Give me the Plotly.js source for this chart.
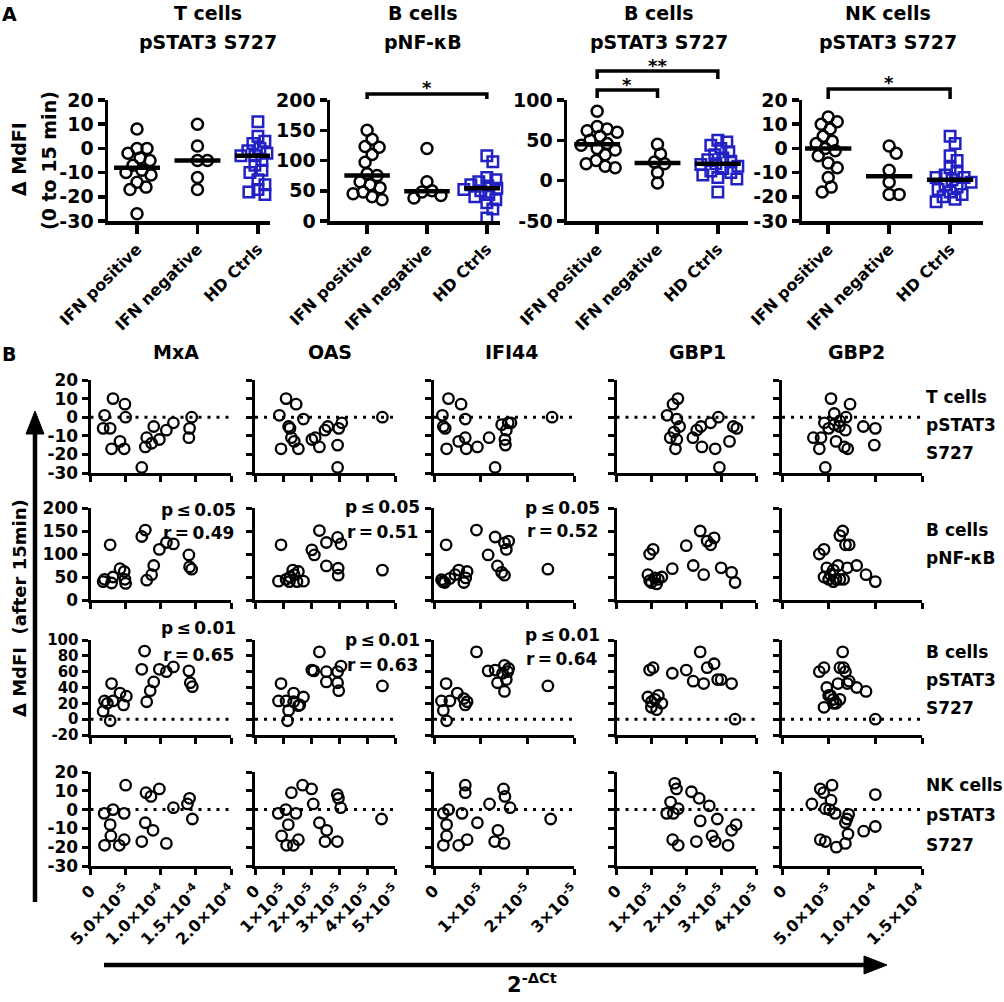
<!DOCTYPE html>
<html><head><meta charset="utf-8">
<script src="https://cdn.plot.ly/plotly-3.0.1.min.js"></script>
<style>html,body{margin:0;padding:0;background:#fff}</style>
</head><body><div id="chart" style="width:1004px;height:1002px"></div>
<script>
// ================= DATA =================
// Panel A: groups
const groups = ["IFN positive", "IFN negative", "HD Ctrls"];
const aTitle1 = ["T cells", "B cells", "B cells", "NK cells"];
const aTitle2 = ["pSTAT3 S727", "pNF-κB", "pSTAT3 S727", "pSTAT3 S727"];

const tPos = [8, 0, 0, -2, -4, -5, -7, -9, -10, -11, -14, -16, -17, -27];
const tNeg = [10, 1, -5, -5, -12, -17];
const tHD  = [11, 5, 3, 2, 1, 0, -1, -2, -3, -3, -5, -7, -9, -10, -13, -15, -17, -18, -19];
const bnfPos = [150, 135, 123, 122, 110, 97, 78, 75, 65, 60, 55, 48, 45, 40, 35];
const bnfNeg = [120, 65, 50, 48, 42, 38];
const bnfHD  = [108, 98, 72, 68, 65, 62, 60, 58, 56, 54, 52, 50, 47, 44, 40, 35, 30, 20, 5];
const bstPos = [86, 67, 64, 62, 60, 55, 50, 46, 44, 40, 38, 32, 25, 21, 18, 16];
const bstNeg = [45, 33, 23, 21, 10, -3];
const bstHD  = [50, 48, 44, 40, 36, 32, 28, 26, 24, 21, 20, 18, 15, 12, 10, 7, 4, 2, -14];
const nkPos = [13, 11, 10, 8, 5, 3, 2, 0, -1, -3, -6, -8, -12, -16, -18];
const nkNeg = [1, -2, -9, -14, -19, -19];
const nkHD  = [5, 2, -3, -5, -8, -10, -11, -12, -12, -13, -14, -15, -16, -17, -18, -19, -20, -21, -22];

const aYTicks = [[-30,-20,-10,0,10,20],[0,50,100,150,200],[-50,0,50,100],[-30,-20,-10,0,10,20]];
const aYTickText = [["-30","-20","-10","0","10","20"],["0","50","100","150","200"],["-50","0","50","100"],["-30","-20","-10","0","10","20"]];
const aYRange = [[-30,20],[0,200],[-50,100],[-30,20]];
const sigStars = [[], ["*"], ["**","*"], ["*"]];

// Panel B
const genes = ["MxA", "OAS", "IFI44", "GBP1", "GBP2"];
const rowLabels = [["T cells","pSTAT3","S727"],["B cells","pNF-κB"],["B cells","pSTAT3","S727"],["NK cells","pSTAT3","S727"]];
const pTexts = [["p ≤ 0.05","r = 0.49"],["p ≤ 0.05","r = 0.51"],["p ≤ 0.05","r = 0.52"]];
const pTexts3 = [["p ≤ 0.01","r = 0.65"],["p ≤ 0.01","r = 0.63"],["p ≤ 0.01","r = 0.64"]];

const colTicks = [[0,5e-5,1e-4,1.5e-4,2e-4],[0,1e-5,2e-5,3e-5,4e-5,5e-5],[0,1e-5,2e-5,3e-5],[0,1e-5,2e-5,3e-5,4e-5],[0,5e-5,1e-4,1.5e-4]];
const colTickText = [
  ["0","5.0×10<sup>-5</sup>","1.0×10<sup>-4</sup>","1.5×10<sup>-4</sup>","2.0×10<sup>-4</sup>"],
  ["0","1×10<sup>-5</sup>","2×10<sup>-5</sup>","3×10<sup>-5</sup>","4×10<sup>-5</sup>","5×10<sup>-5</sup>"],
  ["0","1×10<sup>-5</sup>","2×10<sup>-5</sup>","3×10<sup>-5</sup>"],
  ["0","1×10<sup>-5</sup>","2×10<sup>-5</sup>","3×10<sup>-5</sup>","4×10<sup>-5</sup>"],
  ["0","5.0×10<sup>-5</sup>","1.0×10<sup>-4</sup>","1.5×10<sup>-4</sup>"]];
const colRange = [[0,2e-4],[0,5e-5],[0,3e-5],[0,4e-5],[0,1.5e-4]];
const rowRange = [[-30,20],[0,200],[-20,100],[-30,20]];
const rowTicks = [[-30,-20,-10,0,10,20],[0,50,100,150,200],[-20,0,20,40,60,80,100],[-30,-20,-10,0,10,20]];
const rowTickText = [["-30","-20","-10","0","10","20"],["0","50","100","150","200"],["-20","0","20","40","60","80","100"],["-30","-20","-10","0","10","20"]];

// MxA
const MxA_T_x = [20e-6,32e-6,49e-6,50e-6,18e-6,28e-6,42e-6,30e-6,48e-6,73e-6,78e-6,80e-6,87e-6,90e-6,98e-6,108e-6,118e-6,140e-6,141e-6,144e-6];
const MxA_T_y = [1,10,7,0,-6,-6,-13,-17,-17,-27,-16,-11,-14,-5,-12,-7,-3,-11,-6,0];
const MxA_Bnf_x = [20e-6,18e-6,28e-6,30e-6,32e-6,42e-6,48e-6,49e-6,50e-6,73e-6,78e-6,80e-6,87e-6,90e-6,98e-6,108e-6,118e-6,140e-6,141e-6,144e-6];
const MxA_Bnf_y = [45,40,120,37,50,68,62,45,36,138,152,43,55,75,110,125,122,98,72,67];
const MxA_Bst_x = [20e-6,18e-6,30e-6,32e-6,28e-6,42e-6,47e-6,51e-6,73e-6,77e-6,80e-6,85e-6,90e-6,98e-6,108e-6,118e-6,140e-6,142e-6,145e-6,24e-6];
const MxA_Bst_y = [23,10,45,23,-2,33,18,29,63,86,22,36,47,63,60,66,61,46,41,20];
const MxA_NK_x = [19.5e-6,32e-6,50e-6,48e-6,28e-6,29e-6,20e-6,41e-6,48e-6,73e-6,78e-6,79e-6,86e-6,89e-6,98e-6,108e-6,118e-6,138e-6,141e-6,145e-6];
const MxA_NK_y = [-2,0,13,-2,-8,-14,-19,-19,-16,-17,-7,9,7,-11,11,-18,1,3,6,-5];
// OAS
const OAS_T_x = [11.1e-6,14.7e-6,8.7e-6,17.3e-6,12e-6,12.5e-6,13e-6,14e-6,9.3e-6,15.5e-6,20.3e-6,21.5e-6,23e-6,25e-6,26e-6,29.9e-6,31e-6,29.5e-6,29.5e-6,45.5e-6];
const OAS_T_y = [10,7,1,-1,-5,-6,-11,-13,-17,-17,-12,-11,-16,-7,-5,-6,-3,-15,-27,0];
const OAS_Bnf_x = [9.3e-6,8.4e-6,11.1e-6,12.3e-6,13.5e-6,15e-6,15.5e-6,17.3e-6,12.5e-6,20.3e-6,21.2e-6,23e-6,25.5e-6,29.5e-6,30.7e-6,25.5e-6,29.7e-6,29.7e-6,45.5e-6,14e-6];
const OAS_Bnf_y = [120,41,45,40,65,40,62,41,50,109,98,151,125,136,122,74,69,54,65,55];
const OAS_Bst_x = [9.3e-6,8.4e-6,11.1e-6,13.8e-6,12e-6,15.5e-6,17.3e-6,11.6e-6,13.8e-6,20.3e-6,21e-6,23e-6,25.5e-6,25.5e-6,29.5e-6,30.7e-6,29.5e-6,29.9e-6,45.5e-6,16e-6];
const OAS_Bst_y = [45,23,23,33,11,17,28,-2,22,62,61,85,60,47,60,67,46,36,42,18];
const OAS_NK_x = [8.3e-6,11e-6,13e-6,14.6e-6,11.9e-6,9.5e-6,11.3e-6,13.7e-6,15.5e-6,17e-6,20.2e-6,20.8e-6,23e-6,25.6e-6,25e-6,29.4e-6,29.8e-6,30.6e-6,29.4e-6,45.2e-6];
const OAS_NK_y = [-2,0,9,-2,-8,-14,-19,-19,-16,13,11,3,-7,-11,-17,8,6,1,-17,-5];
// IFI44
const IFI44_T_x = [3.1e-6,5.8e-6,1.8e-6,6.7e-6,2.0e-6,2.4e-6,5.3e-6,6.7e-6,2.7e-6,6.9e-6,9.3e-6,11.8e-6,13.1e-6,14.5e-6,15.5e-6,15.9e-6,15.2e-6,15.3e-6,16.5e-6,25.3e-6];
const IFI44_T_y = [10,7,1,-1,-5,-6,-13,-11,-17,-17,-16,-11,-27,-4,-7,-3,-12,-15,-3,0];
const IFI44_Bnf_x = [2.6e-6,9.1e-6,1.6e-6,2.3e-6,3.4e-6,5.3e-6,7.1e-6,6.4e-6,6.8e-6,11.6e-6,13.1e-6,15.1e-6,15.5e-6,13.6e-6,15.1e-6,16.0e-6,14.5e-6,1.9e-6,24.4e-6,4.5e-6];
const IFI44_Bnf_y = [120,152,44,38,47,65,62,38,48,98,137,124,110,74,54,128,60,40,67,55];
const IFI44_Bst_x = [2.6e-6,1.6e-6,3.4e-6,5e-6,6.4e-6,6.7e-6,7.1e-6,2.0e-6,2.7e-6,9.1e-6,11.6e-6,13.1e-6,13.6e-6,14.7e-6,15.1e-6,15.1e-6,15.5e-6,16.0e-6,15.8e-6,24.4e-6];
const IFI44_Bst_y = [45,23,23,33,26,18,22,11,-2,85,61,62,46,58,68,35,50,64,60,42];
const IFI44_NK_x = [2.0e-6,3.1e-6,6.7e-6,6.7e-6,6.0e-6,2.7e-6,2.7e-6,2.0e-6,5.3e-6,7.1e-6,9.3e-6,11.9e-6,13.7e-6,13.0e-6,15.0e-6,14.9e-6,15.2e-6,16.3e-6,25.0e-6];
const IFI44_NK_y = [-2,0,13,9,-2,-8,-14,-19,-19,-16,-7,3,-11,-17,-18,11,7,1,-5];
// GBP1
const GBP1_T_x = [17.6e-6,16.2e-6,14.5e-6,17.3e-6,18.1e-6,15.4e-6,17.3e-6,16.9e-6,21.9e-6,23.0e-6,24.2e-6,24.5e-6,27.0e-6,29.2e-6,28.3e-6,29.5e-6,32.4e-6,33.5e-6,34.5e-6,16.5e-6];
const GBP1_T_y = [10,7,1,-1,-5,-11,-12,-17,-11,-7,-5,-16,-3,0,-17,-27,-13,-5,-6,-8];
const GBP1_Bnf_x = [9.5e-6,10.5e-6,9e-6,9.5e-6,11e-6,10e-6,12e-6,16e-6,20e-6,24e-6,26e-6,27e-6,22e-6,25e-6,30e-6,33e-6,34e-6,13e-6,11.5e-6,28e-6];
const GBP1_Bnf_y = [100,110,55,42,48,38,45,68,118,150,128,120,75,55,70,60,38,50,35,135];
const GBP1_Bst_x = [9.5e-6,10.5e-6,9e-6,10e-6,11e-6,10e-6,12e-6,16e-6,20e-6,24e-6,26e-6,28e-6,22e-6,25e-6,30e-6,33e-6,34e-6,13e-6,11.5e-6,29e-6];
const GBP1_Bst_y = [62,65,28,22,25,15,30,58,62,85,65,70,48,45,50,45,0,20,12,50];
const GBP1_NK_x = [16.7e-6,17.2e-6,15.5e-6,14.4e-6,16.3e-6,17.7e-6,16.1e-6,17.7e-6,21.5e-6,23.7e-6,26.6e-6,24e-6,28.9e-6,22.9e-6,27.4e-6,28.3e-6,32e-6,33e-6,34.3e-6];
const GBP1_NK_y = [14,11,4,-2,-2,0.5,-16,-19,9.5,6,2,-6,-5,-17,-14,-17,-19,-11,-8];
// GBP2
const GBP2_T_x = [52.5e-6,72.9e-6,56e-6,68.6e-6,45.4e-6,56e-6,61.4e-6,67.9e-6,87.1e-6,100e-6,33.6e-6,41.8e-6,57.9e-6,40e-6,66.8e-6,70.4e-6,98.9e-6,46.4e-6,50e-6,62e-6];
const GBP2_T_y = [10,7,2,0,-3,-4,-5,-7,-5,-6,-11,-11,-13,-17,-16,-17,-15,-27,-6,-2];
const GBP2_Bnf_x = [40e-6,45e-6,50e-6,48e-6,55e-6,60e-6,62e-6,65e-6,68e-6,55e-6,62e-6,70e-6,80e-6,90e-6,100e-6,45e-6,52e-6,66e-6,72e-6,58e-6];
const GBP2_Bnf_y = [100,110,45,70,40,75,140,150,120,65,45,70,75,55,40,50,55,45,120,45];
const GBP2_Bst_x = [40e-6,45e-6,50e-6,48e-6,55e-6,60e-6,62e-6,65e-6,68e-6,55e-6,62e-6,70e-6,80e-6,90e-6,100e-6,45e-6,52e-6,66e-6,72e-6,58e-6];
const GBP2_Bst_y = [60,65,30,40,20,45,65,85,60,25,25,45,40,35,0,15,30,65,48,20];
const GBP2_NK_x = [53.6e-6,41e-6,44.6e-6,52.5e-6,32e-6,46.4e-6,51e-6,57e-6,71.4e-6,69.6e-6,67.9e-6,70.7e-6,87.5e-6,100e-6,100e-6,41e-6,46.4e-6,58.2e-6,67.9e-6];
const GBP2_NK_y = [13,11,9,5,3,0.5,0,-2,-2.5,-5,-7,-13,-11.5,8,-9,-16,-17,-20,-18];

// ================= BUILD =================
const FONT = "DejaVu Sans";
const W = 1004, H = 1002;
const fx = p => p / W, fy = p => 1 - p / H;
const bold = (size) => ({family: FONT, size: size, color: '#000', weight: 'bold'});

const layout = {
  width: W, height: H, margin: {l: 0, r: 0, t: 0, b: 0}, showlegend: false,
  paper_bgcolor: '#fff', plot_bgcolor: 'rgba(0,0,0,0)',
  font: {family: FONT, color: '#000'}, annotations: [], shapes: []
};
const traces = [];
let nAx = 0;
function addAxes(xd, yd, xr, yr, xcfg, ycfg) {
  nAx++;
  const s = nAx === 1 ? '' : String(nAx);
  const base = {showline: true, linecolor: '#000', showgrid: false, zeroline: false,
    ticks: 'outside', tickcolor: '#000', fixedrange: true};
  layout['xaxis' + s] = Object.assign({}, base, {domain: [fx(xd[0]), fx(xd[1])], range: xr, anchor: 'y' + s}, xcfg);
  layout['yaxis' + s] = Object.assign({}, base, {domain: [fy(yd[1]), fy(yd[0])], range: yr, anchor: 'x' + s}, ycfg);
  return {x: 'x' + s, y: 'y' + s};
}
function ann(text, x, y, size, opts) {
  layout.annotations.push(Object.assign({text: text, x: fx(x), y: fy(y), xref: 'paper', yref: 'paper',
    showarrow: false, xanchor: 'center', yanchor: 'middle', font: bold(size)}, opts || {}));
}
function pathShape(pts, w, fill) {
  const d = 'M ' + pts.map(p => fx(p[0]) + ',' + fy(p[1])).join(' L ') + (fill ? ' Z' : '');
  const sh = {type: 'path', xref: 'paper', yref: 'paper', path: d, line: {color: '#000', width: w}};
  if (fill) sh.fillcolor = '#000';
  layout.shapes.push(sh);
}
function median(a) {
  const s = a.slice().sort((p, q) => p - q), n = s.length;
  return n % 2 ? s[(n - 1) / 2] : (s[n / 2 - 1] + s[n / 2]) / 2;
}
function swarm(vals, xppu, yppu, diam) {
  const off = new Array(vals.length).fill(0);
  const order = vals.map((v, i) => i).sort((a, b) => vals[b] - vals[a]);
  const placed = [];
  for (const i of order) {
    const yp = vals[i] * yppu;
    let chosen = 0;
    for (let s = 0; s < 400; s++) {
      const c = (s % 2 === 1 ? 1 : -1) * Math.ceil(s / 2);
      let ok = true;
      for (const p of placed) {
        const dx = c - p[0], dy = yp - p[1];
        if (dx * dx + dy * dy < diam * diam) { ok = false; break; }
      }
      if (ok) { chosen = c; break; }
    }
    placed.push([chosen, yp]);
    off[i] = chosen / xppu;
  }
  return off;
}

// ---------- Panel A ----------
const aData = [[tPos, tNeg, tHD], [bnfPos, bnfNeg, bnfHD], [bstPos, bstNeg, bstHD], [nkPos, nkNeg, nkHD]];
const aXDom = [[108, 270], [330, 500], [567, 748], [802, 983]];
const aXRange = [[-0.48, 2.2], [-0.62, 2.22], [-0.5, 2.5], [-0.43, 2.54]];
const aYDom = [100, 221];
const aTitleX = [208, 423, 659, 888];
const BLUE = '#2222c4';

for (let p = 0; p < 4; p++) {
  const ax = addAxes(aXDom[p], aYDom, aXRange[p], aYRange[p],
    {tickvals: [0, 1, 2], ticktext: groups, tickangle: -45, ticklen: 9, tickwidth: 3.5, linewidth: 3.5,
     tickfont: bold(16)},
    {tickvals: aYTicks[p], ticktext: aYTickText[p], ticklen: 7, tickwidth: 3.5, linewidth: 3.5,
     tickfont: bold(19)});
  const xppu = (aXDom[p][1] - aXDom[p][0]) / (aXRange[p][1] - aXRange[p][0]);
  const yppu = (aYDom[1] - aYDom[0]) / (aYRange[p][1] - aYRange[p][0]);
  for (let g = 0; g < 3; g++) {
    const vals = aData[p][g];
    const off = swarm(vals, xppu, yppu, g === 2 ? 8.5 : 10);
    traces.push({type: 'scatter', mode: 'markers', xaxis: ax.x, yaxis: ax.y, cliponaxis: false,
      x: vals.map((v, i) => g + off[i]), y: vals,
      marker: g === 2 ? {symbol: 'square-open', size: 10.5, color: BLUE, line: {width: 2.5, color: BLUE}}
                      : {symbol: 'circle-open', size: 11, color: '#000', line: {width: 2.5, color: '#000'}}});
    const m = median(vals);
    traces.push({type: 'scatter', mode: 'lines', xaxis: ax.x, yaxis: ax.y, cliponaxis: false,
      x: [g - 0.38, g + 0.38], y: [m, m], line: {color: '#000', width: 4.5}});
  }
  // titles
  ann(aTitle1[p], aTitleX[p], 13, 19);
  ann(aTitle2[p], aTitleX[p], 42, 19);
  // significance brackets
  const cx = c => aXDom[p][0] + (c - aXRange[p][0]) * xppu;
  if (p === 1 || p === 3) {
    const yb = p === 1 ? 94 : 89;
    pathShape([[cx(0), 99], [cx(0), yb], [cx(2), yb], [cx(2), 99]], 3.5, false);
    ann(sigStars[p][0], cx(1), yb - 6, 18);
  }
  if (p === 2) {
    pathShape([[cx(0), 79], [cx(0), 71], [cx(2), 71], [cx(2), 79]], 3.5, false);
    ann(sigStars[p][0], cx(1), 65, 18);
    pathShape([[cx(0), 98], [cx(0), 90], [cx(1), 90], [cx(1), 98]], 3.5, false);
    ann(sigStars[p][1], (cx(0) + cx(1)) / 2, 84, 18);
  }
}
ann("A", 9, 14, 19);
ann("Δ MdFI", 19, 159, 19, {textangle: -90});
ann("(0 to 15 min)", 49, 161, 19, {textangle: -90});

// ---------- Panel B ----------
const bData = [
  [[MxA_T_x, MxA_T_y], [OAS_T_x, OAS_T_y], [IFI44_T_x, IFI44_T_y], [GBP1_T_x, GBP1_T_y], [GBP2_T_x, GBP2_T_y]],
  [[MxA_Bnf_x, MxA_Bnf_y], [OAS_Bnf_x, OAS_Bnf_y], [IFI44_Bnf_x, IFI44_Bnf_y], [GBP1_Bnf_x, GBP1_Bnf_y], [GBP2_Bnf_x, GBP2_Bnf_y]],
  [[MxA_Bst_x, MxA_Bst_y], [OAS_Bst_x, OAS_Bst_y], [IFI44_Bst_x, IFI44_Bst_y], [GBP1_Bst_x, GBP1_Bst_y], [GBP2_Bst_x, GBP2_Bst_y]],
  [[MxA_NK_x, MxA_NK_y], [OAS_NK_x, OAS_NK_y], [IFI44_NK_x, IFI44_NK_y], [GBP1_NK_x, GBP1_NK_y], [GBP2_NK_x, GBP2_NK_y]]
];
const colDom = [[90.5, 231], [255, 395], [434, 574], [616.5, 756], [782, 922]];
const rowDom = [[380, 473], [508, 600], [640, 735], [772, 866]];
const colTitleX = [176, 330, 512, 697, 856];
const rowTickSize = [17, 17, 15, 17];

for (let r = 0; r < 4; r++) {
  for (let c = 0; c < 5; c++) {
    const ax = addAxes(colDom[c], rowDom[r], colRange[c], rowRange[r],
      {tickvals: colTicks[c], ticktext: colTickText[c], showticklabels: r === 3, tickangle: -45,
       ticklen: 6, tickwidth: 3, linewidth: 3, tickfont: bold(16)},
      {tickvals: rowTicks[r], ticktext: rowTickText[r], showticklabels: c === 0,
       ticklen: 6, tickwidth: 3, linewidth: 3, tickfont: bold(rowTickSize[r])});
    if (r !== 1) {
      layout.shapes.push({type: 'line', xref: ax.x, yref: ax.y, layer: 'below',
        x0: colRange[c][0], x1: colRange[c][1], y0: 0, y1: 0,
        line: {color: '#000', width: 3, dash: '3px,6px'}});
    }
    traces.push({type: 'scatter', mode: 'markers', xaxis: ax.x, yaxis: ax.y, cliponaxis: false,
      x: bData[r][c][0], y: bData[r][c][1],
      marker: {symbol: 'circle-open', size: 10.5, color: '#000', line: {width: 2.3, color: '#000'}}});
  }
}
genes.forEach((g, i) => ann(g, colTitleX[i], 352, 19));
ann("B", 9, 354, 19);

const rowLabelY = [[397, 425, 453], [530, 558], [652, 680, 708], [785, 815, 845]];
rowLabels.forEach((lines, r) => lines.forEach((t, j) => ann(t, 924, rowLabelY[r][j], 17, {xanchor: 'left'})));

// p / r annotations
const pRight = [238, 422, 602];
const pY2 = [[510, 533], [507, 532], [508, 531]];
const pY3 = [[628, 655], [640, 665], [635, 659]];
for (let i = 0; i < 3; i++) {
  ann(pTexts[i][0].replace(/ /g, '\u2009'), pRight[i], pY2[i][0], 17, {xanchor: 'right'});
  ann(pTexts[i][1].replace(/ /g, '\u2009'), pRight[i] - 2, pY2[i][1], 17, {xanchor: 'right'});
  ann(pTexts3[i][0].replace(/ /g, '\u2009'), pRight[i], pY3[i][0], 17, {xanchor: 'right'});
  ann(pTexts3[i][1].replace(/ /g, '\u2009'), pRight[i] - 2, pY3[i][1], 17, {xanchor: 'right'});
}

// big axis arrows and labels
pathShape([[35, 902], [35, 428]], 4.5, false);
pathShape([[35, 411], [26, 434], [44, 434]], 1, true);
pathShape([[104, 965], [868, 965]], 4.5, false);
pathShape([[887, 965], [864, 956], [864, 974]], 1, true);
ann("Δ MdFI\u00a0\u00a0(after 15min)", 19, 608, 18, {textangle: -90});
ann("2<sup>-ΔCt</sup>", 532, 983, 21);

Plotly.newPlot('chart', traces, layout, {staticPlot: true, displayModeBar: false});
</script></body></html>
